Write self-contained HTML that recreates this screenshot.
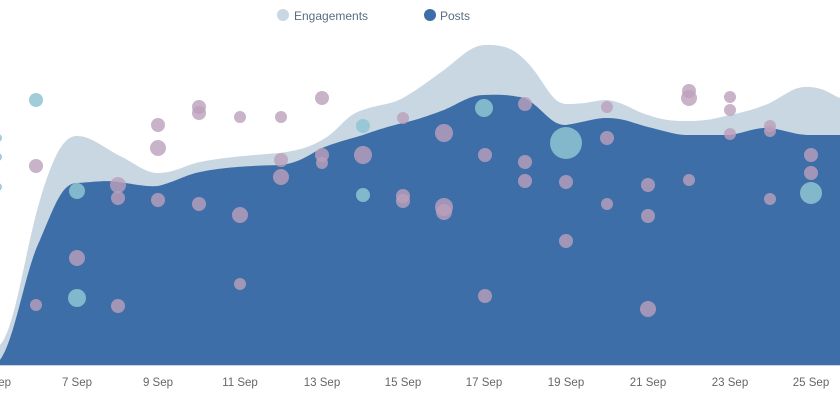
<!DOCTYPE html>
<html><head><style>body{margin:0;background:#fff}svg{display:block;font-family:"Liberation Sans",sans-serif}</style></head><body>
<svg width="840" height="400" viewBox="0 0 840 400">
<path fill="#c8d7e2" d="M0,365 L0,345 C15,330 25,250 40,200 C55,150 65,136 77,136 C90,136 100,145 118,155 C135,163 145,173 158,173 C175,173 185,165 200,162 C220,158 240,156 280,153 C300,150 310,147 322,140 C340,130 345,115 363,110 C380,104 390,105 403,98 C420,88 430,80 444,70 C460,58 470,46 484,45 C505,44 515,50 525,60 C545,80 550,103 566,104 C590,104 595,100 607,100 C625,102 635,112 648,115 C665,121 675,121 688,121 C710,121 720,117 730,115 C750,111 760,107 770,103 C790,92 795,86 810,87 C825,88 832,95 840,98 L840,365 Z"/>
<path fill="#3d6ea8" d="M0,365 L0,360 C15,340 25,270 40,240 C55,205 62,183 77,183 C95,182 105,180 118,182 C135,184 145,187 158,186 C175,182 185,175 200,172 C220,168 240,166 280,165 C300,163 310,154 322,148 C340,141 350,139 363,135 C380,129 390,126 403,123 C420,119 430,115 444,110 C460,103 470,95 484,95 C505,94 515,96 525,98 C545,110 550,125 566,125 C585,122 595,118 607,118 C625,118 635,124 648,127 C665,131 675,135 688,135 C710,135 720,135 730,135 C745,133 755,127 770,128 C785,130 795,135 810,135 L840,135 L840,365 Z"/>
<line x1="0" y1="365.5" x2="840" y2="365.5" stroke="#c8d3dc" stroke-width="1"/>
<g fill="rgba(143,196,210,0.85)">
<circle cx="36" cy="100" r="7"/><circle cx="77" cy="191" r="8"/><circle cx="77" cy="298" r="9"/><circle cx="363" cy="126" r="7"/><circle cx="363" cy="195" r="7"/><circle cx="484" cy="108" r="9"/><circle cx="566" cy="143" r="16"/><circle cx="811" cy="193" r="11"/><circle cx="-2" cy="138" r="4"/><circle cx="-2" cy="157" r="4"/><circle cx="-2" cy="187" r="4"/>
</g>
<g fill="rgba(188,160,187,0.8)">
<circle cx="36" cy="166" r="7"/><circle cx="36" cy="305" r="6"/><circle cx="77" cy="258" r="8"/><circle cx="118" cy="185" r="8"/><circle cx="118" cy="198" r="7"/><circle cx="118" cy="306" r="7"/><circle cx="158" cy="125" r="7"/><circle cx="158" cy="148" r="8"/><circle cx="158" cy="200" r="7"/><circle cx="199" cy="107" r="7"/><circle cx="199" cy="113" r="7"/><circle cx="199" cy="204" r="7"/><circle cx="240" cy="117" r="6"/><circle cx="240" cy="215" r="8"/><circle cx="240" cy="284" r="6"/><circle cx="281" cy="117" r="6"/><circle cx="281" cy="160" r="7"/><circle cx="281" cy="177" r="8"/><circle cx="322" cy="98" r="7"/><circle cx="322" cy="155" r="7"/><circle cx="322" cy="163" r="6"/><circle cx="363" cy="155" r="9"/><circle cx="403" cy="118" r="6"/><circle cx="403" cy="196" r="7"/><circle cx="403" cy="201" r="7"/><circle cx="444" cy="133" r="9"/><circle cx="444" cy="207" r="9"/><circle cx="444" cy="212" r="8"/><circle cx="485" cy="155" r="7"/><circle cx="485" cy="296" r="7"/><circle cx="525" cy="104" r="7"/><circle cx="525" cy="162" r="7"/><circle cx="525" cy="181" r="7"/><circle cx="566" cy="182" r="7"/><circle cx="566" cy="241" r="7"/><circle cx="607" cy="107" r="6"/><circle cx="607" cy="138" r="7"/><circle cx="607" cy="204" r="6"/><circle cx="648" cy="185" r="7"/><circle cx="648" cy="216" r="7"/><circle cx="648" cy="309" r="8"/><circle cx="689" cy="91" r="7"/><circle cx="689" cy="98" r="8"/><circle cx="689" cy="180" r="6"/><circle cx="730" cy="97" r="6"/><circle cx="730" cy="110" r="6"/><circle cx="730" cy="134" r="6"/><circle cx="770" cy="126" r="6"/><circle cx="770" cy="131" r="6"/><circle cx="770" cy="199" r="6"/><circle cx="811" cy="155" r="7"/><circle cx="811" cy="173" r="7"/>
</g>
<circle cx="283" cy="15" r="6" fill="#c8d7e2"/><text x="294" y="20" font-size="12" fill="#5a6e80">Engagements</text>
<circle cx="430" cy="15" r="6" fill="#3d6ea8"/><text x="440" y="20" font-size="12" fill="#5a6e80">Posts</text>
<g font-size="11.5" fill="#666" text-anchor="middle">
<text x="-4" y="386">5 Sep</text><text x="77" y="386">7 Sep</text><text x="158" y="386">9 Sep</text><text x="240" y="386">11 Sep</text><text x="322" y="386">13 Sep</text><text x="403" y="386">15 Sep</text><text x="484" y="386">17 Sep</text><text x="566" y="386">19 Sep</text><text x="648" y="386">21 Sep</text><text x="730" y="386">23 Sep</text><text x="811" y="386">25 Sep</text>
</g>
</svg>
</body></html>
